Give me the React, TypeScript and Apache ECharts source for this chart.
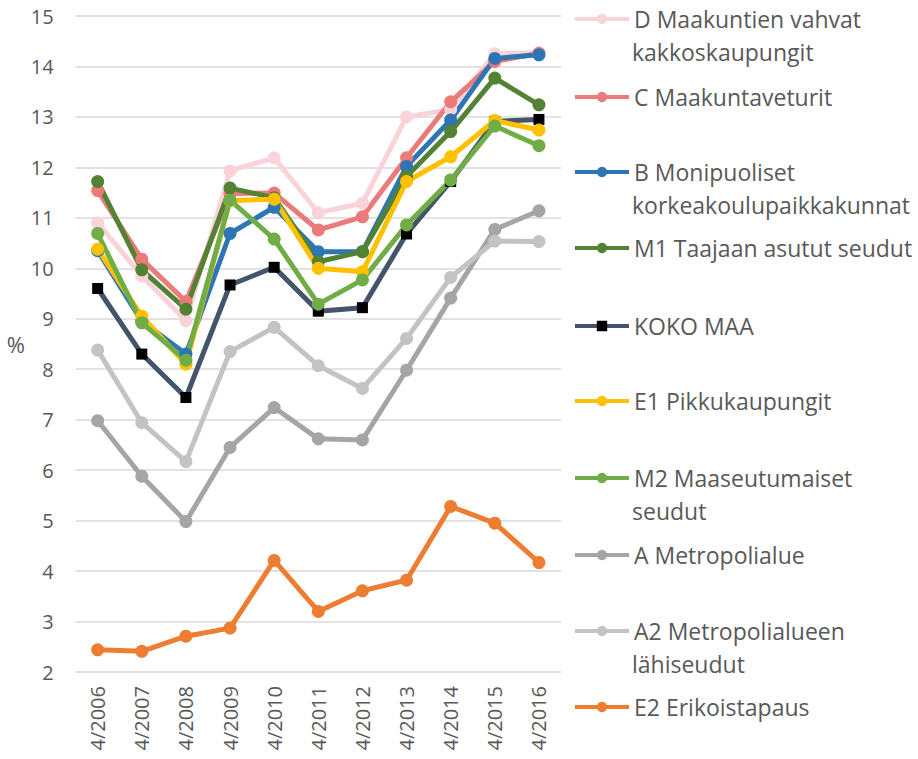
import React, { useEffect, useRef } from "react";
import * as echarts from "echarts";

const categories = ["4/2006", "4/2007", "4/2008", "4/2009", "4/2010", "4/2011", "4/2012", "4/2013", "4/2014", "4/2015", "4/2016"];

const seriesNames = [
  "D Maakuntien vahvat\nkakkoskaupungit",
  "C Maakuntaveturit",
  "B Monipuoliset\nkorkeakoulupaikkakunnat",
  "M1 Taajaan asutut seudut",
  "KOKO MAA",
  "E1 Pikkukaupungit",
  "M2 Maaseutumaiset\nseudut",
  "A Metropolialue",
  "A2 Metropolialueen\nlähiseudut",
  "E2 Erikoistapaus",
];

const dValues = [10.9, 9.85, 8.96, 11.93, 12.19, 11.1, 11.29, 13.0, 13.15, 14.25, 14.27];
const cValues = [11.54, 10.18, 9.34, 11.48, 11.49, 10.76, 11.02, 12.19, 13.3, 14.1, 14.26];
const bValues = [10.35, 8.95, 8.3, 10.69, 11.21, 10.33, 10.33, 12.02, 12.94, 14.16, 14.23];
const m1Values = [11.72, 9.97, 9.19, 11.59, 11.4, 10.13, 10.33, 11.82, 12.71, 13.77, 13.24];
const kokoValues = [9.6, 8.3, 7.44, 9.67, 10.02, 9.15, 9.22, 10.68, 11.72, 12.91, 12.95];
const e1Values = [10.38, 9.05, 8.1, 11.34, 11.37, 10.0, 9.93, 11.72, 12.21, 12.93, 12.74];
const m2Values = [10.69, 8.92, 8.18, 11.35, 10.58, 9.29, 9.77, 10.86, 11.75, 12.82, 12.43];
const aValues = [6.98, 5.88, 4.98, 6.45, 7.24, 6.62, 6.6, 7.98, 9.41, 10.77, 11.14];
const a2Values = [8.38, 6.94, 6.17, 8.35, 8.83, 8.07, 7.62, 8.61, 9.82, 10.54, 10.53];
const e2Values = [2.44, 2.41, 2.71, 2.87, 4.21, 3.2, 3.61, 3.82, 5.28, 4.95, 4.17];

const yTicks = [2, 3, 4, 5, 6, 7, 8, 9, 10, 11, 12, 13, 14, 15];

const allValues = [dValues, cValues, bValues, m1Values, kokoValues, e1Values, m2Values, aValues, a2Values, e2Values];
const colors = ["#f9d3d7", "#eb7b7b", "#2e75b6", "#548235", "#44546a", "#ffc000", "#70ad47", "#a5a5a5", "#c3c3c3", "#ed7d31"];
const legendCenters = [19, 97, 172, 248, 326, 401, 478, 555, 631, 707];

const FONT = "'Open Sans', sans-serif";
const LEGEND_LH = 33;
const LEGEND_FS = 23;

export default function App() {
  const ref = useRef<HTMLDivElement>(null);
  useEffect(() => {
    if (!ref.current) return;
    const chart = echarts.init(ref.current, undefined, { renderer: "svg" });
    const series = seriesNames.map((name, i) => {
      const isKoko = name === "KOKO MAA";
      return {
        name,
        type: "line",
        data: allValues[i],
        symbol: isKoko ? "rect" : "circle",
        symbolSize: isKoko ? 11 : 13,
        lineStyle: { width: 5, color: colors[i] },
        itemStyle: { color: isKoko ? "#000000" : colors[i] },
        emphasis: { disabled: true },
      };
    });
    const legends = seriesNames.map((name, i) => ({
      data: [name],
      orient: "vertical",
      left: 573,
      top: legendCenters[i] - LEGEND_LH / 2,
      padding: 0,
      itemWidth: 54,
      itemHeight: 13,
      itemGap: 0,
      selectedMode: false,
      lineStyle: { width: 4 },
      formatter: (n: string) => n.split("\n")[0],
      textStyle: {
        fontFamily: FONT,
        fontSize: LEGEND_FS,
        color: "#595959",
        lineHeight: LEGEND_LH,
      },
    }));
    const secondLines = seriesNames
      .map((name, i) => ({ name, i }))
      .filter((o) => o.name.includes("\n"))
      .map((o) => ({
        type: "text",
        left: 632,
        top: legendCenters[o.i] + LEGEND_LH - LEGEND_LH / 2,
        style: {
          text: o.name.split("\n")[1],
          font: `${LEGEND_FS}px ${FONT}`,
          fill: "#595959",
          lineHeight: LEGEND_LH,
        },
      }));
    chart.setOption({
      animation: false,
      grid: { left: 75.6, right: 357, top: 16, bottom: 87 },
      legend: legends,
      graphic: secondLines,
      xAxis: {
        type: "category",
        data: categories,
        boundaryGap: true,
        axisLine: { show: false },
        axisTick: { show: false },
        axisLabel: { rotate: 90, margin: 14, fontFamily: FONT, fontSize: 20, color: "#595959" },
      },
      yAxis: {
        type: "value",
        min: yTicks[0],
        max: yTicks[yTicks.length - 1],
        interval: 1,
        name: "%",
        nameLocation: "middle",
        nameRotate: 0,
        nameGap: 47,
        nameTextStyle: { fontFamily: FONT, fontSize: 22, color: "#595959" },
        axisLine: { show: false },
        axisTick: { show: false },
        axisLabel: { margin: 22, fontFamily: FONT, fontSize: 20, color: "#595959" },
        splitLine: { lineStyle: { color: "#d9d9d9", width: 1.5 } },
      },
      series,
    });
    return () => chart.dispose();
  }, []);
  return <div ref={ref} style={{ position: "fixed", left: 0, top: 0, width: 918, height: 759, background: "#fff" }} />;
}
